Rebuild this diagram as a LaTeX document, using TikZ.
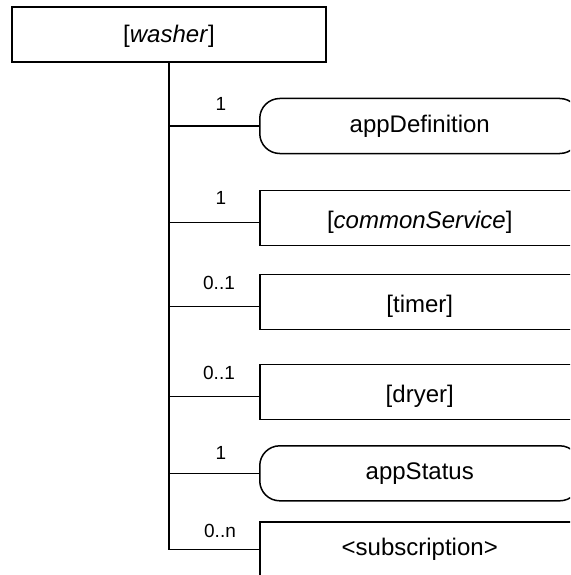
\documentclass[tikz,border=0pt]{standalone}
\usepackage{fontspec}
\setmainfont{Liberation Sans}
\newcommand{\boxsz}{\fontsize{24}{27}\selectfont}
\newcommand{\cntsz}{\fontsize{19}{21}\selectfont}

\begin{document}
\begin{tikzpicture}[x=1pt,y=-1pt,
	elem/.style={draw,line width=1.5pt,inner sep=0pt,minimum width=320pt,font=\boxsz,text height=38pt,text depth=17pt,anchor=base west},
	prop/.style={elem,rounded corners=20pt,text height=33.5pt,text depth=21.5pt},
	cnt/.style={font=\cntsz,inner sep=0pt},
	link/.style={line width=1.5pt}]
	\useasboundingbox (0,0) rectangle (570,575);
	\clip (0,0) rectangle (570,575);
	%Root
	\node[draw,line width=1.5pt,inner sep=0pt,minimum width=314pt,font=\boxsz,text height=35.5pt,text depth=19.5pt] (washer) at (169,34.5) {[\textit{washer}]};
	%Children (placed by their baselines)
	\node[prop] (appdef) at (259,132) {appDefinition};
	\node[elem] (common) at (259,228.3) {[\textit{commonService}]};
	\node[elem] (timer) at (259,312.7) {[timer]};
	\node[elem] (dryer) at (259,402.7) {[dryer]};
	\node[prop] (status) at (259,479.3) {appStatus};
	\node[elem,text height=33.5pt,text depth=21.5pt] (subscr) at (259,555.3) {<subscription>};
	%Multiplicities
	\node[cnt] (m1) at (221,104) {1};
	\node[cnt] (m2) at (221,198) {1};
	\node[cnt] (m3) at (219,283) {0..1};
	\node[cnt] (m4) at (219,372.5) {0..1};
	\node[cnt] (m5) at (221,452.5) {1};
	\node[cnt] (m6) at (220,531) {0..n};
	%Links
	\draw[link] (washer.south) |- ([yshift=6pt]appdef.base west);
	\draw[link] (washer.south) |- ([yshift=6pt]common.base west);
	\draw[link] (washer.south) |- ([yshift=6pt]timer.base west);
	\draw[link] (washer.south) |- ([yshift=6pt]dryer.base west);
	\draw[link] (washer.south) |- ([yshift=6pt]status.base west);
	\draw[link] (washer.south) |- ([yshift=6pt]subscr.base west);
\end{tikzpicture}
\end{document}
